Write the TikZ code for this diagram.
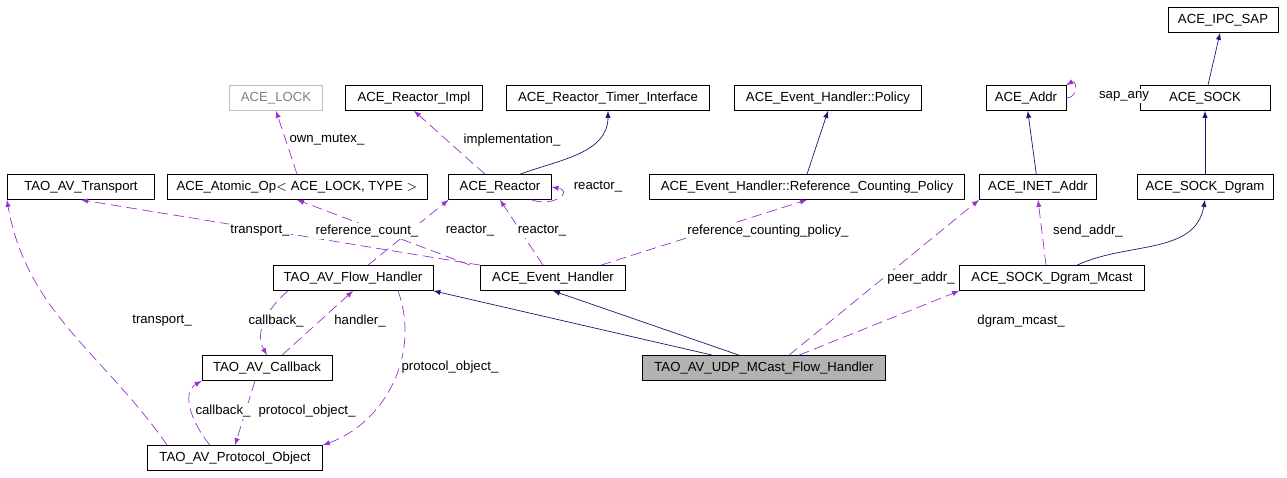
\documentclass[tikz,border=0pt]{standalone}
\usepackage{fontspec}
\setmainfont{Liberation Sans}
\usetikzlibrary{arrows}
\definecolor{EdgeBlue}{HTML}{191970}
\definecolor{EdgePurple}{HTML}{9A32CD}
\tikzset{
  cls/.style={draw,rectangle,inner xsep=5pt,minimum height=0.5cm,font=\fontsize{7.5}{9}\selectfont},
  inherit/.style={EdgeBlue,-latex},
  uses/.style={EdgePurple,-latex,dashed,dash pattern=on 6pt off 3pt},
  lbl/.style={font=\fontsize{7.5}{9}\selectfont,inner sep=1pt,fill=white}
}
\begin{document}
\begin{tikzpicture}[x=0.02cm,y=-0.02cm]
  \useasboundingbox (0,0) rectangle (1287,477);

  % classes
  \node[cls,minimum width=2.2cm] (IpcSap) at (1223,20) {ACE\_IPC\_SAP};
  \node[cls,minimum width=2.6cm] (Sock) at (1205,98) {ACE\_SOCK};
  \node[cls,minimum width=2.6cm] (SockDgram) at (1205,187) {ACE\_SOCK\_Dgram};
  \node[cls,minimum width=1.45cm] (Addr) at (1026,98) {ACE\_Addr};
  \node[cls,minimum width=1.95cm] (InetAddr) at (1038,187) {ACE\_INET\_Addr};
  \node[cls,minimum width=3.7cm] (Mcast) at (1052,278) {ACE\_SOCK\_Dgram\_Mcast};
  \node[cls,minimum width=3.75cm] (Policy) at (828,98) {ACE\_Event\_Handler::Policy};
  \node[cls,minimum width=6.3cm] (RefPolicy) at (807,187) {ACE\_Event\_Handler::Reference\_Counting\_Policy};
  \node[cls,minimum width=4.05cm] (TimerIf) at (608,98) {ACE\_Reactor\_Timer\_Interface};
  \node[cls,minimum width=2.75cm] (ReactorImpl) at (414,98) {ACE\_Reactor\_Impl};
  \node[cls,draw=gray!50,text=gray,minimum width=1.85cm] (Lock) at (276,98) {ACE\_LOCK};
  \node[cls,minimum width=2.05cm] (Reactor) at (500,187) {ACE\_Reactor};
  \node[cls,minimum width=5.2cm] (AtomicOp) at (297,187) {ACE\_Atomic\_Op$<$ ACE\_LOCK, TYPE $>$};
  \node[cls,minimum width=2.95cm] (Transport) at (81,187) {TAO\_AV\_Transport};
  \node[cls,minimum width=3.2cm] (FlowHandler) at (353,278) {TAO\_AV\_Flow\_Handler};
  \node[cls,minimum width=2.9cm] (EventHandler) at (553,278) {ACE\_Event\_Handler};
  \node[cls,fill=gray!60,minimum width=4.85cm] (Udp) at (764,368) {TAO\_AV\_UDP\_MCast\_Flow\_Handler};
  \node[cls,minimum width=2.6cm] (Callback) at (267,368) {TAO\_AV\_Callback};
  \node[cls,minimum width=3.5cm] (ProtoObj) at (235,458) {TAO\_AV\_Protocol\_Object};

  % inheritance
  \draw[inherit] (Sock) -- (IpcSap);
  \draw[inherit] (SockDgram) -- (Sock);
  \draw[inherit] (InetAddr) -- (Addr);
  \draw[inherit] (Mcast.north) ++(25,0) to[out=25,in=-100] (SockDgram.south);
  \draw[inherit] (RefPolicy.north) -- (Policy.south);
  \draw[inherit] (Reactor.north) ++(20,0) to[out=20,in=-90] (TimerIf.south);
  \draw[inherit] (Udp.north west) ++(70,0) -- (FlowHandler.south east);
  \draw[inherit] (Udp.north) ++(-25,0) -- (EventHandler.south);

  % usage
  \draw[uses] (Addr.east) to[out=0,in=30,looseness=2.5] (Addr.north east);
  \draw[uses] (AtomicOp.north) to (Lock.south);
  \draw[uses] (Reactor.north) ++(-15,0) -- (ReactorImpl.south);
  \draw[uses] (Reactor.south east) ++(-20,0) to[out=-20,in=-10,looseness=2.5] (Reactor.east);
  \draw[uses] (EventHandler.north west) -- (Transport.south);
  \draw[uses] (EventHandler.north west) ++(-10,0) -- (AtomicOp.south);
  \draw[uses] (FlowHandler.north) ++(15,0) -- (Reactor.south west);
  \draw[uses] (EventHandler.north) ++(-10,0) -- (Reactor.south);
  \draw[uses] (EventHandler.north east) ++(-25,0) -- (RefPolicy.south);
  \draw[uses] (Udp.north) ++(25,0) -- (InetAddr.south west);
  \draw[uses] (Mcast.north) ++(-6,0) -- (InetAddr.south);
  \draw[uses] (Udp.north) ++(35,0) -- (Mcast.south west);
  \draw[uses] (FlowHandler.south) ++(-65,0) to[out=-140,in=120] (Callback.north);
  \draw[uses] (Callback.north) ++(15,0) -- (FlowHandler.south);
  \draw[uses] (FlowHandler.south) ++(45,0) to[out=-70,in=20] (ProtoObj.north east);
  \draw[uses] (ProtoObj.north) ++(-25,0) to[out=130,in=-150] (Callback.south west);
  \draw[uses] (Callback.south) ++(-12,0) -- (ProtoObj.north);
  \draw[uses] (ProtoObj.north west) ++(20,0) to[out=125,in=-80] (Transport.south west);

  % member labels
  \node[lbl] (lSap) at (1124,96) {sap\_any};
  \node[lbl] (lMutex) at (327,140) {own\_mutex\_};
  \node[lbl] (lImpl) at (512,140) {implementation\_};
  \node[lbl] (lReactorSelf) at (598,187) {reactor\_};
  \node[lbl] (lTransport) at (260,231) {transport\_};
  \node[lbl] (lRefCount) at (367,231) {reference\_count\_};
  \node[lbl] (lReactorFh) at (470,231) {reactor\_};
  \node[lbl] (lReactorEh) at (542,231) {reactor\_};
  \node[lbl] (lRefPolicy) at (768,231) {reference\_counting\_policy\_};
  \node[lbl] (lPeer) at (921,278) {peer\_addr\_};
  \node[lbl] (lSend) at (1088,231) {send\_addr\_};
  \node[lbl] (lDgram) at (1021,321) {dgram\_mcast\_};
  \node[lbl] (lCallbackFh) at (276,321) {callback\_};
  \node[lbl] (lHandler) at (360,321) {handler\_};
  \node[lbl] (lProtoFh) at (450,367) {protocol\_object\_};
  \node[lbl] (lTransportPo) at (162,321) {transport\_};
  \node[lbl] (lCallbackPo) at (223,411) {callback\_};
  \node[lbl] (lProtoCb) at (307,411) {protocol\_object\_};
\end{tikzpicture}
\end{document}
